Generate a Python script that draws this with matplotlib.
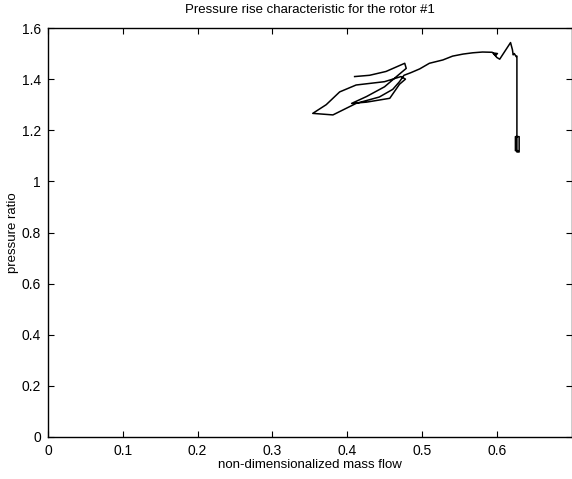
import matplotlib
matplotlib.use("Agg")
import matplotlib.pyplot as plt

# Trajectory of the operating point
mass_flow = [0.628, 0.625, 0.625, 0.630, 0.630, 0.627,
             0.627, 0.626, 0.6235, 0.622, 0.621, 0.6185,
             0.604, 0.600, 0.596, 0.601, 0.598, 0.594,
             0.581, 0.568, 0.555, 0.541, 0.528, 0.510, 0.497, 0.485, 0.476,
             0.470, 0.461, 0.443, 0.412, 0.381, 0.354, 0.372, 0.390, 0.412,
             0.450, 0.472, 0.478, 0.470, 0.457, 0.426, 0.406, 0.426, 0.450,
             0.466, 0.479, 0.477, 0.452, 0.430, 0.410]
pressure_ratio = [1.120, 1.120, 1.175, 1.175, 1.115, 1.115,
                  1.490, 1.488, 1.500, 1.495, 1.515, 1.543,
                  1.478, 1.485, 1.502, 1.500, 1.492, 1.505,
                  1.506, 1.503, 1.498, 1.490, 1.475, 1.462, 1.440, 1.425, 1.415,
                  1.390, 1.360, 1.330, 1.305, 1.260, 1.266, 1.300, 1.350, 1.377,
                  1.390, 1.410, 1.400, 1.380, 1.325, 1.310, 1.305, 1.332, 1.370,
                  1.410, 1.442, 1.462, 1.430, 1.415, 1.410]

x_ticks = [0, 0.1, 0.2, 0.3, 0.4, 0.5, 0.6]
x_tick_labels = ["0", "0.1", "0.2", "0.3", "0.4", "0.5", "0.6"]
y_ticks = [0, 0.2, 0.4, 0.6, 0.8, 1.0, 1.2, 1.4, 1.6]
y_tick_labels = ["0", "0.2", "0.4", "0.6", "0.8", "1", "1.2", "1.4", "1.6"]

plt.rcParams['font.family'] = ['Liberation Sans', 'DejaVu Sans']

fig = plt.figure(figsize=(5.72, 4.79), dpi=100)
ax = fig.add_axes([48 / 572, 1 - 437 / 479, 523.5 / 572, (437 - 28) / 479])

ax.plot(mass_flow, pressure_ratio, color='black', linewidth=1.1)

ax.set_xlim(0, 0.7)
ax.set_ylim(0, 1.6)
ax.set_xticks(x_ticks)
ax.set_xticklabels(x_tick_labels, fontsize=10)
ax.set_yticks(y_ticks)
ax.set_yticklabels(y_tick_labels, fontsize=10)
ax.tick_params(direction='in', top=True, right=True, length=4, width=0.8)
ax.tick_params(axis='x', pad=5)
ax.tick_params(axis='y', pad=5)
for s in ax.spines.values():
    s.set_linewidth(1.0)

ax.set_title("Pressure rise characteristic for the rotor #1", fontsize=9.5, pad=11)
ax.set_xlabel("non-dimensionalized mass flow", fontsize=9.5, labelpad=1)
ax.set_ylabel("pressure ratio", fontsize=9.5, labelpad=2)

fig.savefig("out.png", dpi=100)
